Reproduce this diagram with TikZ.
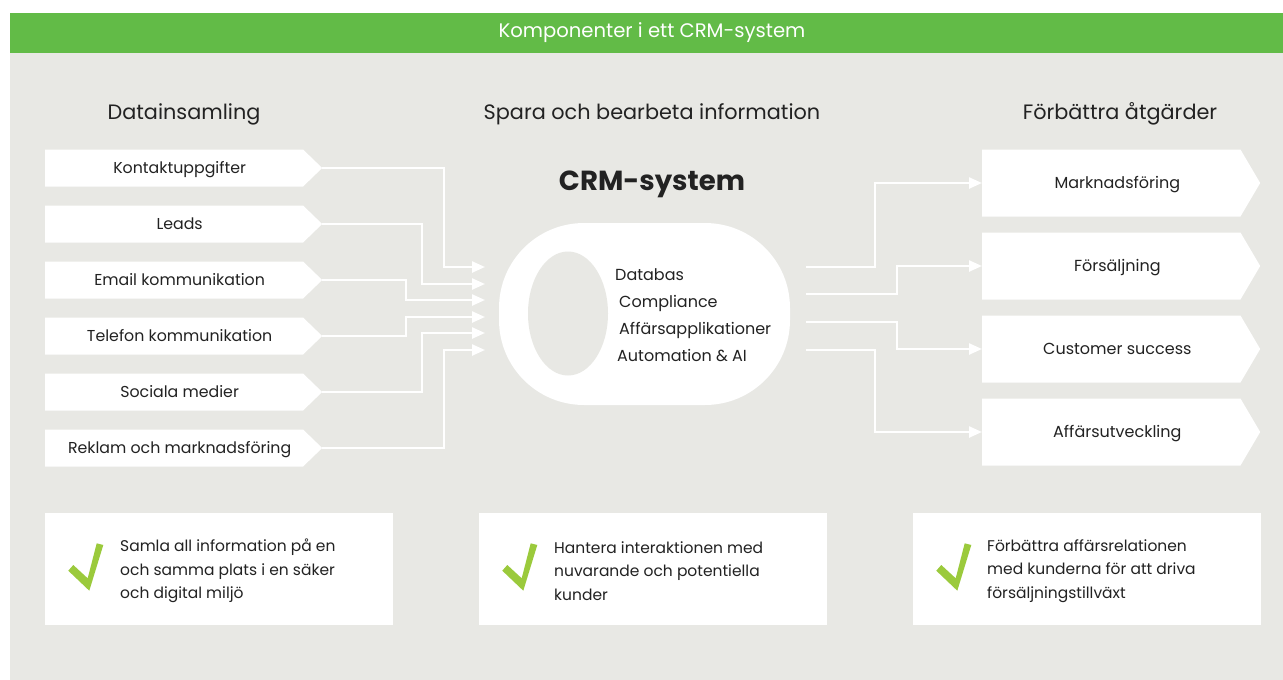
\documentclass[tikz,border=0pt]{standalone}
\usepackage{fontspec}
\setmainfont{Poppins}
\usetikzlibrary{shapes.symbols,shapes.geometric,arrows.meta,positioning}

\definecolor{crmgreen}{HTML}{62BB47}
\definecolor{panelgrey}{HTML}{E8E8E4}
\definecolor{tickgreen}{HTML}{9BCA3C}
\definecolor{inktext}{HTML}{222222}

\tikzset{
  srcbox/.style={signal, signal to=east, signal pointer angle=88, fill=white,
    minimum height=37pt, minimum width=277pt, inner sep=0pt, anchor=west,
    font=\fontsize{15.8}{18}\selectfont, text=inktext,
    text height=11pt, text depth=0pt,
    execute at begin node={\hspace*{11pt}}},
  dstbox/.style={signal, signal to=east, signal pointer angle=119, fill=white,
    minimum height=67pt, minimum width=278pt, inner sep=0pt, anchor=west,
    font=\fontsize{16}{18}\selectfont, text=inktext,
    text height=11.5pt, text depth=0pt,
    execute at begin node={\hspace*{12pt}}},
  goalbox/.style={fill=white, minimum width=348pt, minimum height=112pt,
    inner sep=0pt, anchor=north west},
  goaltext/.style={anchor=west, align=left, inner sep=0pt,
    font=\fontsize{15.5}{23.5}\selectfont, text=inktext},
  heading/.style={font=\fontsize{20.8}{24}\selectfont, text=inktext},
  flow/.style={white, line width=2.4pt, -{Triangle[length=13pt,width=11pt]}},
}

\begin{document}
\begin{tikzpicture}[x=1pt,y=-1pt]
\useasboundingbox (0,0) rectangle (1283,680);
\fill[white] (0,0) rectangle (1283,680);

% panel and title bar
\fill[panelgrey] (10,53) rectangle (1283,680);
\fill[crmgreen] (10,13) rectangle (1283,53);
\node[white, font=\fontsize{19.6}{22}\selectfont] (title) at (652,33) {Komponenter i ett CRM-system};

% column headings
\node[heading] (collect) at (184,114) {Datainsamling};
\node[heading] (process) at (652,114) {Spara och bearbeta information};
\node[heading] (improve) at (1120,114) {Förbättra åtgärder};

% sources on the left
\foreach \t [count=\i] in {Kontaktuppgifter, Leads, Email kommunikation,
    Telefon kommunikation, Sociala medier, Reklam och marknadsföring}
  \node[srcbox] (src\i) at (45,112+56*\i) {\t};

% the CRM system itself
\node[font=\bfseries\fontsize{27.6}{32}\selectfont, text=inktext] (crmname) at (652,184) {CRM-system};
\node[fill=white, rounded corners=85pt, minimum width=291pt, minimum height=182pt] (crm) at (644.5,314) {};
\node[ellipse, fill=panelgrey, minimum width=80pt, minimum height=124pt, inner sep=0pt] (hole) at (568,313.5) {};
\node[anchor=west, align=left, inner sep=0pt, font=\fontsize{16}{27}\selectfont, text=inktext] (crmlist) at (615,315)
  {Databas\\ \hspace*{4pt}Compliance\\ \hspace*{4pt}Affärsapplikationer\\ \hspace*{2pt}Automation \& AI};

% results on the right
\foreach \t [count=\i] in {Marknadsföring, Försäljning, Customer success, Affärsutveckling}
  \node[dstbox] (dst\i) at (982,100+83*\i) {\t};

% flows into the system
\foreach \i/\x/\y in {1/444/267, 2/422/284, 3/406/300, 4/406/317, 5/422/333, 6/444/350} {
  \coordinate (in\i) at (485,\y);
  \draw[flow] (src\i.east) -| (\x,\y) -- (in\i);
}

% flows out of the system
\foreach \i/\x/\y in {1/875/267, 2/897/294, 3/897/322, 4/875/350} {
  \coordinate (out\i) at (806,\y);
  \draw[flow] (out\i) -- (\x,\y) |- (dst\i.west);
}

% benefits along the bottom
\node[goalbox] (goal1) at (45,513) {};
\node[goalbox] (goal2) at (479,513) {};
\node[goalbox] (goal3) at (913,513) {};
\foreach \b in {goal1,goal2,goal3}
  \fill[tickgreen, shift={(\b.north west)}] (23.3,57.7) -- (28.3,52) -- (42.7,65.3)
    -- (51.7,30.3) -- (58.3,32) -- (44.3,77.7) -- cycle;
\node[goaltext] (goaltext1) at ([xshift=75pt,yshift=-58pt]goal1.north west)
  {Samla all information på en\\ och samma plats i en säker\\ och digital miljö};
\node[goaltext] (goaltext2) at ([xshift=75pt,yshift=-58pt]goal2.north west)
  {Hantera interaktionen med\\ nuvarande och potentiella\\ kunder};
\node[goaltext] (goaltext3) at ([xshift=74pt,yshift=-58pt]goal3.north west)
  {Förbättra affärsrelationen\\ med kunderna för att driva\\ försäljningstillväxt};
\end{tikzpicture}
\end{document}
